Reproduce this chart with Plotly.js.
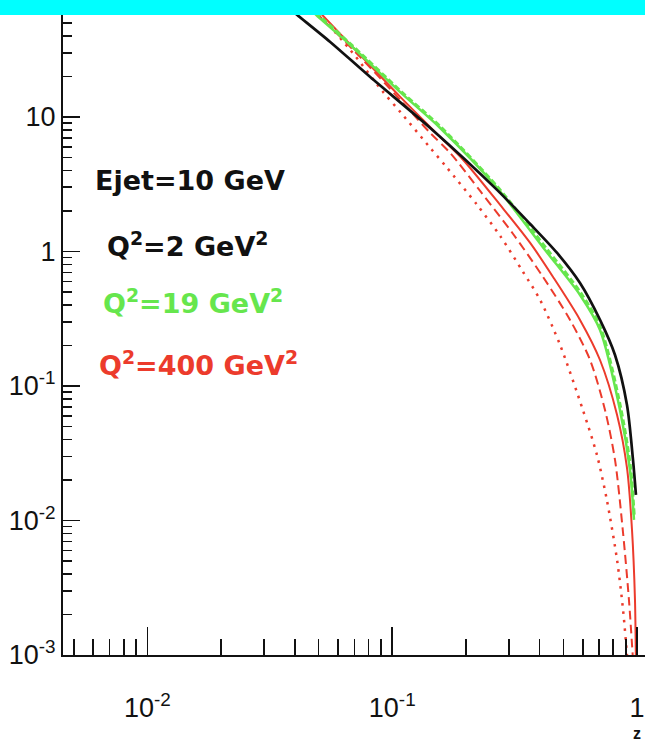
<!DOCTYPE html>
<html><head><meta charset="utf-8">
<script src="https://cdn.plot.ly/plotly-3.0.1.min.js"></script>
<style>html,body{margin:0;padding:0;background:#fff}#chart{width:645px;height:742px}</style>
</head><body><div id="chart"></div>
<script>
// Q2 = 2 GeV2 (black solid)
const blackZ = [0.0397, 0.0409, 0.0558, 0.0813, 0.143, 0.268, 0.366, 0.4715, 0.585, 0.706, 0.813, 0.910, 0.963, 0.990];
const blackV = [60, 57.3, 36.1, 19.8, 8.28, 2.87, 1.60, 0.975, 0.583, 0.310, 0.170, 0.0722, 0.0282, 0.0155];
// Q2 = 19 GeV2 (green solid + dashed)
const greenZ = [0.0479, 0.0489, 0.0674, 0.1078, 0.157, 0.268, 0.421, 0.585, 0.706, 0.852, 0.936, 0.972];
const greenV = [60, 57.3, 34.3, 15.3, 8.28, 2.97, 1.026, 0.475, 0.261, 0.0663, 0.0237, 0.0101];
const greenDZ = [0.0485, 0.068, 0.109, 0.158, 0.27, 0.425, 0.59, 0.71, 0.856, 0.94, 0.975];
const greenDV = [60, 34.5, 15.4, 8.4, 3.0, 1.06, 0.49, 0.27, 0.07, 0.025, 0.0105];
// Q2 = 400 GeV2 (red solid, dashed, dotted)
const redZ = [0.0505, 0.0518, 0.0740, 0.1078, 0.157, 0.195, 0.276, 0.366, 0.454, 0.585, 0.706, 0.829, 0.910, 0.954, 0.981, 0.990];
const redV = [60, 57.3, 28.9, 14.1, 7.10, 4.79, 2.22, 1.157, 0.646, 0.310, 0.156, 0.0609, 0.0246, 0.0085, 0.00256, 0.000773];
const redDashZ = [0.0487, 0.0499, 0.0740, 0.1078, 0.143, 0.1724, 0.2286, 0.3118, 0.4132, 0.5326, 0.643, 0.740, 0.813, 0.877, 0.927, 0.963];
const redDashV = [60, 57.3, 27.9, 13.4, 7.60, 5.40, 2.82, 1.349, 0.646, 0.310, 0.156, 0.0663, 0.0282, 0.00807, 0.00256, 0.000918];
const redDotZ = [0.0495, 0.0674, 0.0919, 0.1078, 0.143, 0.1676, 0.2222, 0.276, 0.3424, 0.402, 0.485, 0.601, 0.686, 0.753, 0.829, 0.877, 0.910, 0.919];
const redDotV = [60, 31.5, 15.3, 10.9, 5.89, 4.18, 2.22, 1.304, 0.704, 0.436, 0.2017, 0.0663, 0.0307, 0.0142, 0.00508, 0.00216, 0.001, 0.000773];

const xMajor = [0.01, 0.1, 1];
const xMajorText = ['10<sup>-2</sup>', '10<sup>-1</sup>', '1'];
const xMinor = [0.005, 0.006, 0.007, 0.008, 0.009, 0.02, 0.03, 0.04, 0.05, 0.06, 0.07, 0.08, 0.09, 0.2, 0.3, 0.4, 0.5, 0.6, 0.7, 0.8, 0.9];
const yMajor = [0.001, 0.01, 0.1, 1, 10];
const yMajorText = ['10<sup>-3</sup>', '10<sup>-2</sup>', '10<sup>-1</sup>', '1', '10'];
const yMinor = [0.002, 0.003, 0.004, 0.005, 0.006, 0.007, 0.008, 0.009, 0.02, 0.03, 0.04, 0.05, 0.06, 0.07, 0.08, 0.09, 0.2, 0.3, 0.4, 0.5, 0.6, 0.7, 0.8, 0.9, 2, 3, 4, 5, 6, 7, 8, 9, 20, 30, 40, 50];

const labels = ['<b>Ejet=10 GeV</b>', '<b>Q<sup>2</sup>=2 GeV<sup>2</sup></b>', '<b>Q<sup>2</sup>=19 GeV<sup>2</sup></b>', '<b>Q<sup>2</sup>=400 GeV<sup>2</sup></b>'];

const BLACK = '#111111', GREEN = '#66e64d', RED = '#ec3b2c';
const sm = 0.8;
const traces = [
  {x: redDotZ, y: redDotV, mode: 'lines', line: {color: RED, width: 2.5, dash: '2.5px,6px', shape: 'spline', smoothing: sm}},
  {x: redDashZ, y: redDashV, mode: 'lines', line: {color: RED, width: 2, dash: '9px,5px', shape: 'spline', smoothing: sm}},
  {x: redZ, y: redV, mode: 'lines', line: {color: RED, width: 2, shape: 'spline', smoothing: sm}},
  {x: greenZ, y: greenV, mode: 'lines', line: {color: GREEN, width: 2.5, shape: 'spline', smoothing: sm}},
  {x: greenDZ, y: greenDV, mode: 'lines', line: {color: GREEN, width: 3, dash: '6px,3px', shape: 'spline', smoothing: sm}},
  {x: blackZ, y: blackV, mode: 'lines', line: {color: BLACK, width: 2.7, shape: 'spline', smoothing: sm}}
];

const tickFont = {family: 'Liberation Sans, Arial, sans-serif', size: 27, color: '#111'};
const textFont = 'DejaVu Sans, Liberation Sans, sans-serif';
const layout = {
  width: 645, height: 742,
  margin: {l: 63, r: 0, t: 15, b: 87},
  paper_bgcolor: '#fff', plot_bgcolor: '#fff',
  showlegend: false,
  xaxis: {
    type: 'log', range: [-2.345, 0.0326],
    showgrid: false, zeroline: false,
    showline: true, linecolor: '#111', linewidth: 2,
    ticks: 'inside', ticklen: 28, tickwidth: 1.6, tickcolor: '#111',
    tickmode: 'array', tickvals: xMajor, ticktext: xMajorText,
    tickfont: tickFont, ticklabelstandoff: 28,
    minor: {ticks: 'inside', ticklen: 16, tickwidth: 1.6, tickcolor: '#111', tickmode: 'array', tickvals: xMinor}
  },
  yaxis: {
    type: 'log', range: [-3, 1.758],
    showgrid: false, zeroline: false,
    showline: true, linecolor: '#111', linewidth: 2,
    ticks: 'inside', ticklen: 17, tickwidth: 1.6, tickcolor: '#111',
    tickmode: 'array', tickvals: yMajor, ticktext: yMajorText,
    tickfont: tickFont, ticklabelstandoff: 0,
    minor: {ticks: 'inside', ticklen: 9, tickwidth: 1.6, tickcolor: '#111', tickmode: 'array', tickvals: yMinor}
  },
  annotations: [
    {text: labels[0], xref: 'paper', yref: 'paper', x: 0.052, y: 0.742, xanchor: 'left', yanchor: 'middle', showarrow: false, font: {family: textFont, size: 27, color: BLACK}},
    {text: labels[1], xref: 'paper', yref: 'paper', x: 0.072, y: 0.642, xanchor: 'left', yanchor: 'middle', showarrow: false, font: {family: textFont, size: 27, color: BLACK}},
    {text: labels[2], xref: 'paper', yref: 'paper', x: 0.066, y: 0.552, xanchor: 'left', yanchor: 'middle', showarrow: false, font: {family: textFont, size: 27, color: GREEN}},
    {text: labels[3], xref: 'paper', yref: 'paper', x: 0.058, y: 0.455, xanchor: 'left', yanchor: 'middle', showarrow: false, font: {family: textFont, size: 27, color: RED}},
    {text: '<b>z</b>', xref: 'x', yref: 'paper', x: 0, y: -0.122, xanchor: 'center', yanchor: 'middle', showarrow: false, borderpad: 0, font: {family: 'Liberation Sans, Arial, sans-serif', size: 16, color: BLACK}}
  ],
  shapes: [
    {type: 'rect', xref: 'paper', yref: 'paper', x0: -0.2, x1: 1.2, y0: 1, y1: 1.05, fillcolor: '#00ffff', line: {width: 0}, layer: 'above'}
  ]
};
Plotly.newPlot('chart', traces, layout, {staticPlot: true, displayModeBar: false});
</script></body></html>
